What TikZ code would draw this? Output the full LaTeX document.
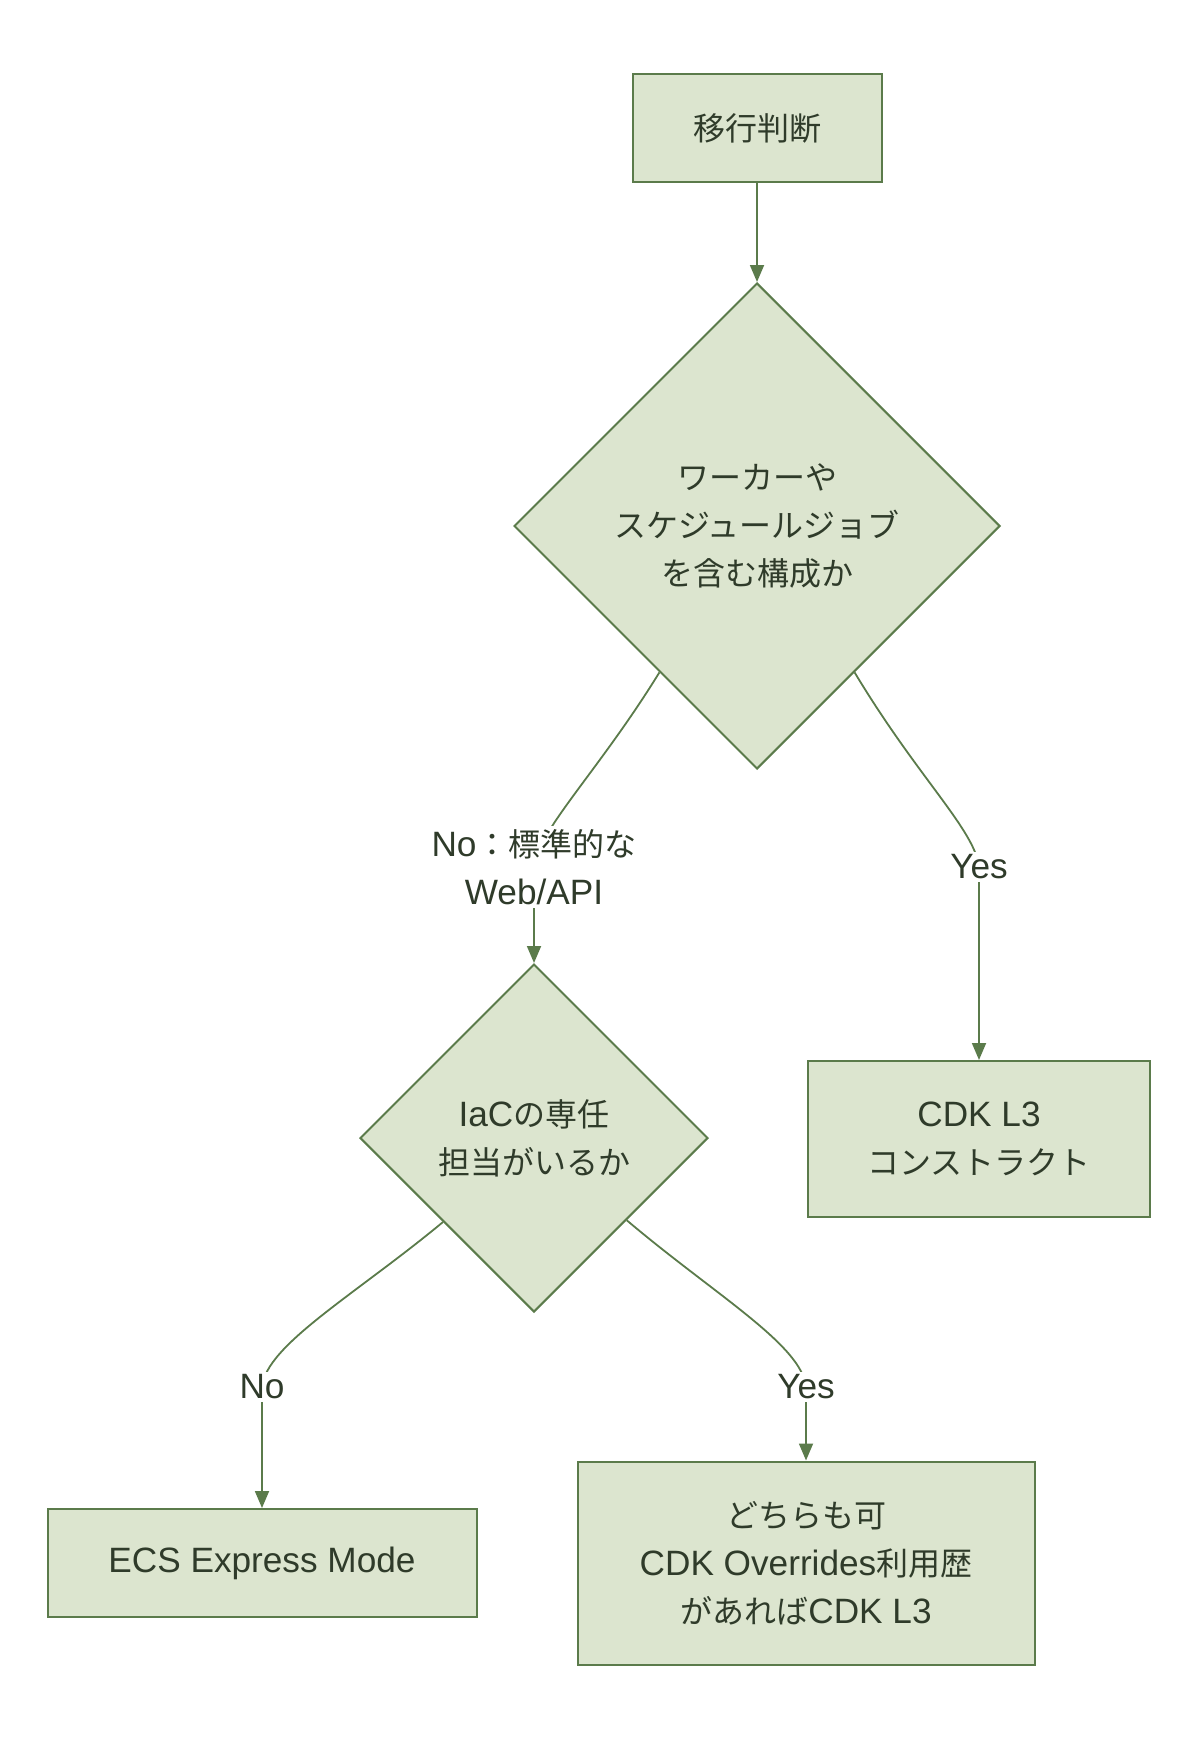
\documentclass[tikz,border=0pt]{standalone}
\usepackage{fontspec}
\setmainfont[Scale=1.1]{Liberation Sans}
\newfontfamily\jp{Noto Sans CJK JP}
\usetikzlibrary{shapes.geometric,arrows.meta,calc}
\definecolor{boxfill}{HTML}{DCE5CF}
\definecolor{boxline}{HTML}{5B7B4B}
\definecolor{ink}{HTML}{2F3B2A}
\begin{document}
\begin{tikzpicture}[x=1pt,y=-1pt,font=\fontsize{32}{48}\selectfont,text=ink,
  box/.style={draw=boxline,fill=boxfill,line width=2pt,align=center,inner sep=0pt},
  ask/.style={diamond,aspect=1,draw=boxline,fill=boxfill,line width=2pt,align=center,inner sep=0pt},
  flow/.style={draw=boxline,line width=1.8pt,-{Triangle[length=17pt,width=14pt]}},
  lbl/.style={fill=white,align=center,inner sep=3pt}]
  \useasboundingbox (0,0) rectangle (1198,1742);
  \node[box,minimum width=249,minimum height=107] (start) at (757,128) {\jp 移行判断};
  \node[ask,minimum width=486,minimum height=486] (q1) at (757,526)
    {{\jp ワーカーや}\\{\jp スケジュールジョブ}\\{\jp を含む構成か}};
  \node[ask,minimum width=348,minimum height=348] (q2) at (534,1138)
    {IaC{\jp の専任}\\{\jp 担当がいるか}};
  \node[box,minimum width=342,minimum height=156] (cdk) at (979,1139)
    {CDK L3\\{\jp コンストラクト}};
  \node[box,minimum width=429,minimum height=108] (ecs) at (262,1563) {ECS Express Mode};
  \node[box,minimum width=457,minimum height=203] (either) at (806,1563)
    {{\jp どちらも可}\\CDK Overrides{\jp 利用歴}\\{\jp があれば}CDK L3};
  \draw[flow] (start) -- (q1);
  \draw[flow] ($(q1.south)!0.4!(q1.west)$) .. controls (598,772) and (538,830) .. (534,867)
    node[lbl]{No{\jp ：標準的な}\\Web/API} -- (q2.north);
  \draw[flow] ($(q1.south)!0.4!(q1.east)$) .. controls (918,778) and (975,830) .. (979,867)
    node[lbl]{Yes} -- (cdk.north);
  \draw[flow] ($(q2.south)!0.52!(q2.west)$) .. controls (355,1295) and (266,1345) .. (262,1387)
    node[lbl]{No} -- (ecs.north);
  \draw[flow] ($(q2.south)!0.53!(q2.east)$) .. controls (715,1295) and (802,1345) .. (806,1387)
    node[lbl]{Yes} -- (either.north);
\end{tikzpicture}
\end{document}
